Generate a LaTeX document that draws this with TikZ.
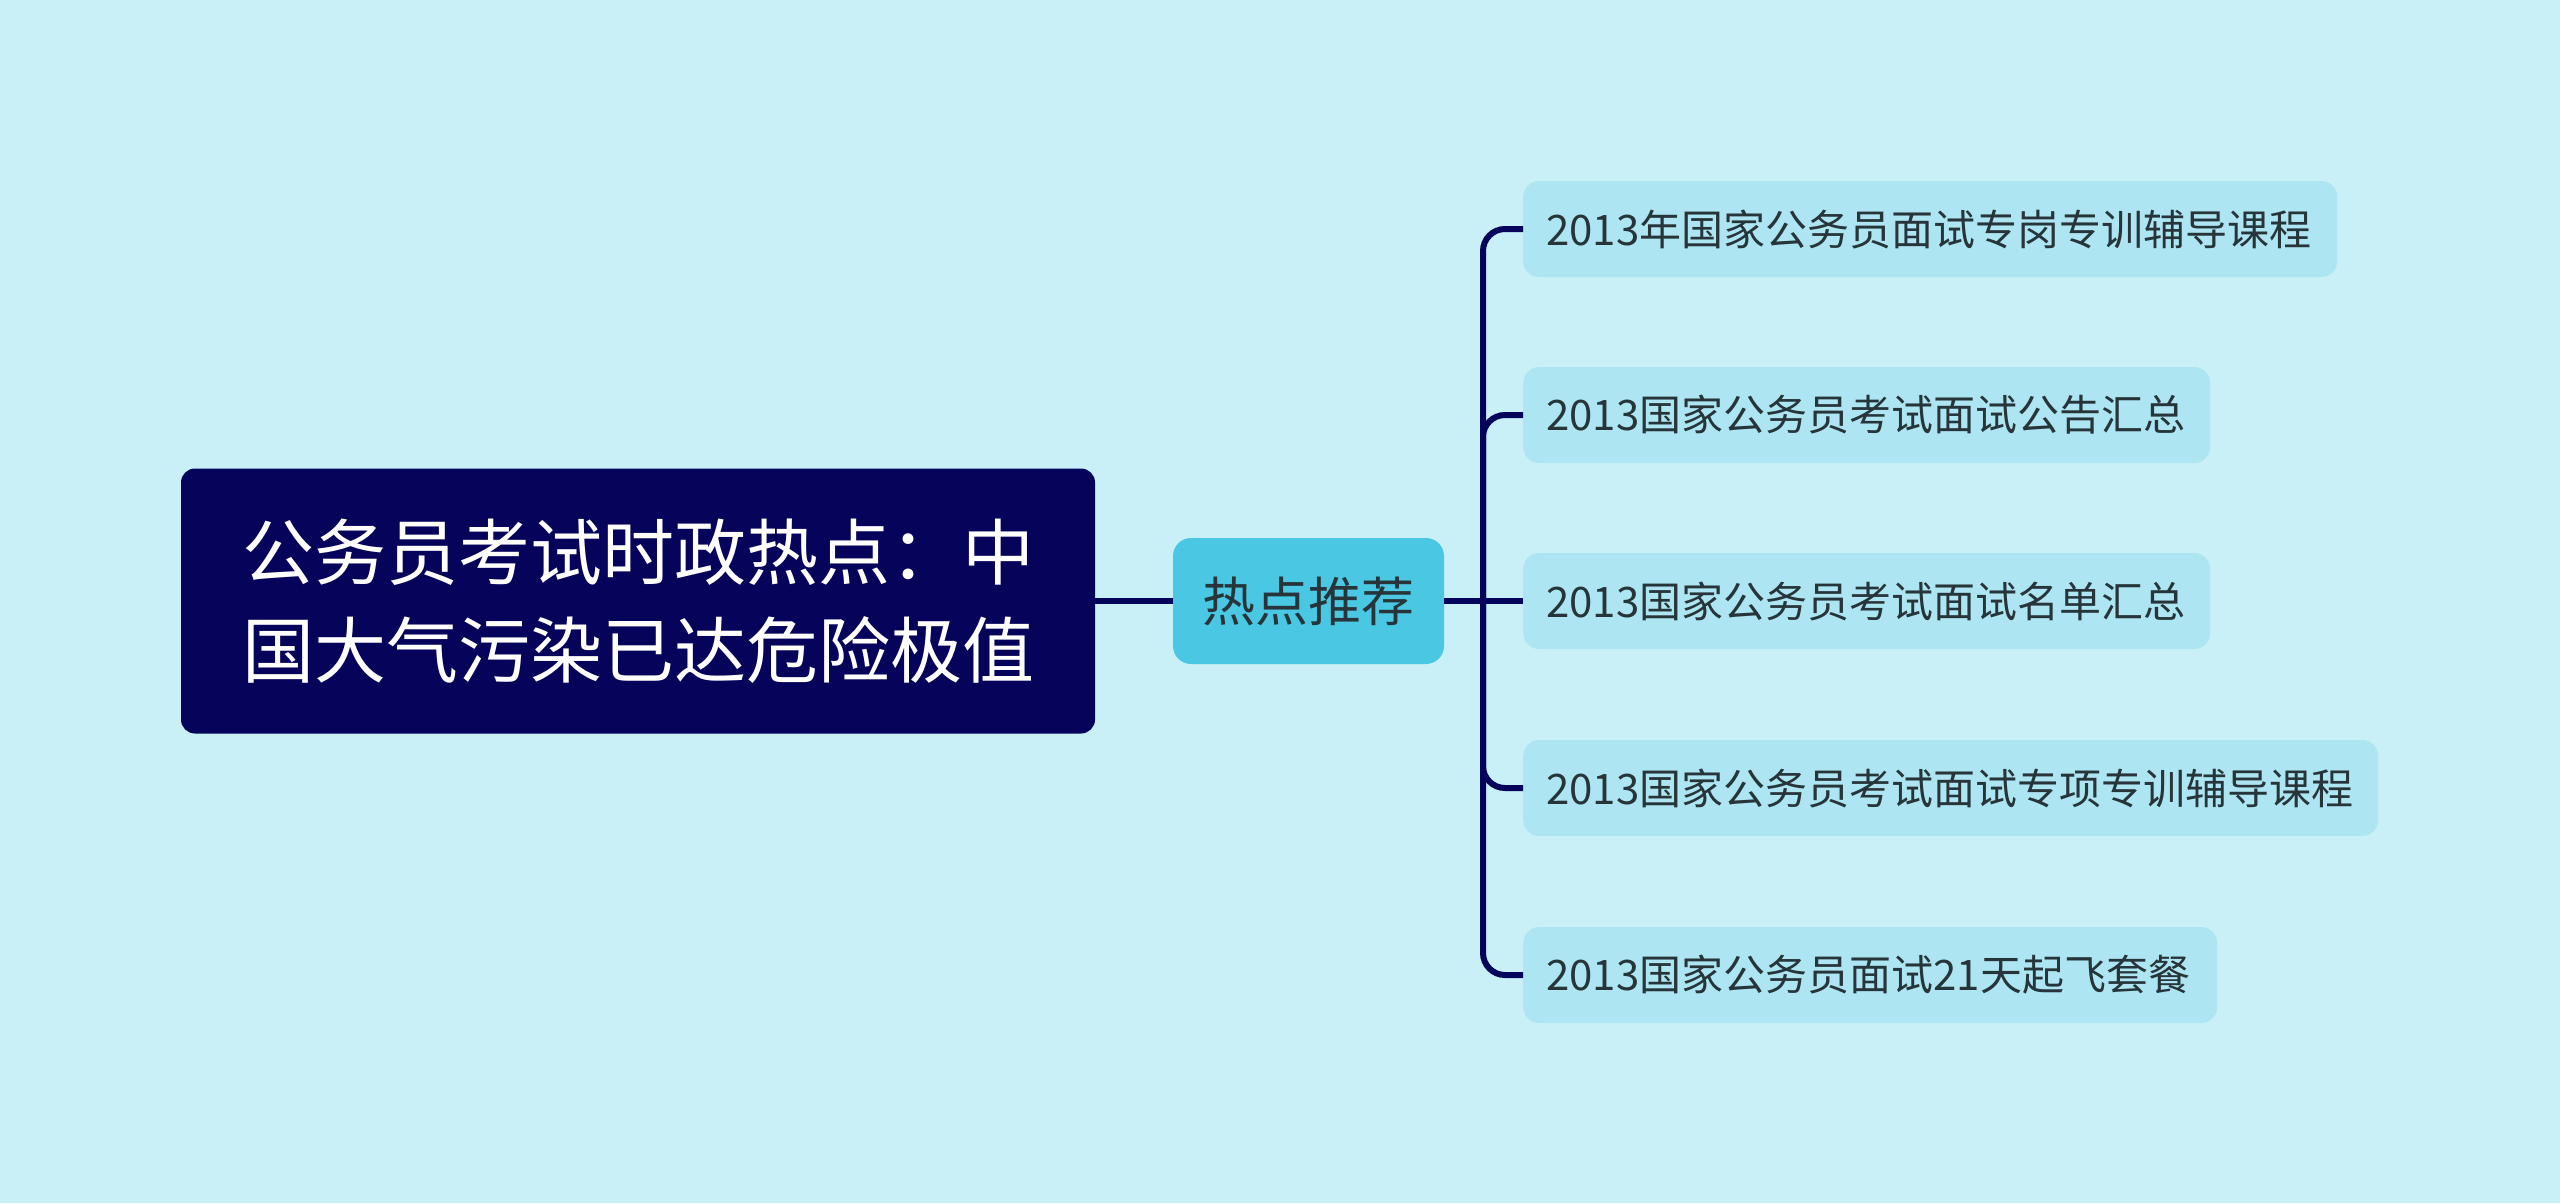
\documentclass[tikz,border=0pt]{standalone}
\usepackage{fontspec}
\setmainfont{Noto Sans CJK SC}
\definecolor{bgc}{HTML}{C9F0F7}
\definecolor{navy}{HTML}{05035A}
\definecolor{midc}{HTML}{4AC8E3}
\definecolor{leafc}{HTML}{ADE6F2}
\definecolor{txtc}{HTML}{27353A}
\tikzset{
  rootbox/.style={fill=navy, rounded corners=14pt, minimum width=914pt, minimum height=265pt, inner sep=0pt, text=white, align=center, font=\fontsize{72}{98}\selectfont},
  midbox/.style={fill=midc, rounded corners=18pt, minimum width=271pt, minimum height=126pt, inner sep=0pt, text=txtc, font=\fontsize{53}{60}\selectfont},
  leafbox/.style={fill=leafc, rounded corners=16pt, minimum height=96pt, inner xsep=23pt, inner ysep=0pt, anchor=west, text=txtc, align=left, font=\fontsize{42}{50}\selectfont},
  conn/.style={draw=navy, line width=6pt, rounded corners=22pt}
}
\begin{document}
\begin{tikzpicture}[x=1pt,y=-1pt]
\fill[bgc] (0,0) rectangle (2560,1203);
\useasboundingbox (0,0) rectangle (2560,1203);
\node[rootbox] (root) at (638,601) {公务员考试时政热点：中\\国大气污染已达危险极值};
\node[midbox] (mid) at (1308.5,601) {热点推荐};
\node[leafbox, text width=768pt] (l1) at (1523,229) {2013年国家公务员面试专岗专训辅导课程};
\node[leafbox, text width=641pt] (l2) at (1523,415) {2013国家公务员考试面试公告汇总};
\node[leafbox, text width=641pt] (l3) at (1523,601) {2013国家公务员考试面试名单汇总};
\node[leafbox, text width=809pt] (l4) at (1523,788) {2013国家公务员考试面试专项专训辅导课程};
\node[leafbox, text width=648pt] (l5) at (1523,975) {2013国家公务员面试21天起飞套餐};
\draw[conn] (root.east) -- (mid.west);
\coordinate (sp) at (1483,601);
\draw[conn] (mid.east) -- (l3.west);
\draw[conn] (sp) |- (l1.west);
\draw[conn] (sp) |- (l2.west);
\draw[conn] (sp) |- (l4.west);
\draw[conn] (sp) |- (l5.west);
\end{tikzpicture}
\end{document}
